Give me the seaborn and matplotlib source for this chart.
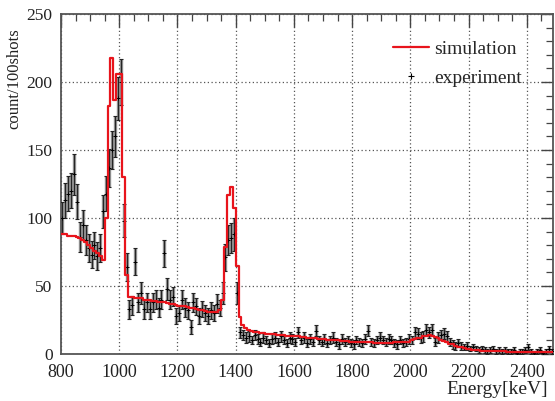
import numpy as np
import pandas as pd
import matplotlib
matplotlib.use("Agg")
import matplotlib.pyplot as plt
from matplotlib.lines import Line2D
from matplotlib.ticker import MultipleLocator
import seaborn as sns

# ---------------- data (10 keV bins starting at 800 keV) ----------------
bin_start = 800
bin_width = 10

simulation = [
    88, 88, 87, 87, 87, 86, 85, 84, 82, 80,            # 800
    78, 76, 74, 72, 69, 100, 182, 218, 187, 206,       # 900
    206, 130, 58, 42, 42, 41, 41, 41, 40, 40,          # 1000
    39.5, 39, 39, 38.5, 38, 38, 37.5, 37, 36.5, 36,    # 1100
    35.5, 35, 35, 34.5, 34, 33.5, 33, 32.5, 32, 31.5,  # 1200
    31, 31, 31, 31, 32, 40, 79, 117, 123, 107,         # 1300
    65, 27, 21, 19, 18, 17, 16.5, 16, 15.5, 15.5,      # 1400
    15, 15, 14.5, 14.5, 14, 14, 14, 13.5, 13.5, 13.5,  # 1500
    13, 13, 12.5, 12.5, 12, 12, 11.5, 11.5, 11, 11,    # 1600
    11, 10.5, 10.5, 10, 10, 10, 9.5, 9.5, 9.5, 9,      # 1700
    9, 9, 9, 9, 8.5, 8.5, 8.5, 8, 8, 8,                # 1800
    8, 8, 8, 8, 8.5, 8.5, 8.5, 9, 9, 9,                # 1900
    10, 11, 11.5, 12, 13, 13.5, 14, 13.5, 12.5, 11.5,  # 2000
    10.5, 9.5, 8.5, 7.5, 7, 6, 5.5, 5, 4.5, 4,         # 2100
    3.5, 3, 3, 2.8, 2.5, 2.5, 2.3, 2.2, 2, 2,          # 2200
    2, 2, 2, 1.8, 1.8, 1.8, 1.7, 1.7, 1.7, 1.6,        # 2300
    1.6, 1.6, 1.6, 1.6, 1.5, 1.5, 1.5, 1.5, 1.5,       # 2400
]

experiment = [
    100, 113, 118, 120, 132, 112, 86, 95, 84, 78,      # 800
    73, 80, 72, 78, 105, 118, 137, 150, 160, 188,      # 900
    200, 98, 64, 33, 36, 68, 38, 45, 33, 38,           # 1000
    33, 38, 40, 34, 40, 74, 48, 40, 42, 28,            # 1100
    30, 40, 34, 32, 20, 38, 35, 28, 33, 30,            # 1200
    28, 32, 30, 37, 34, 45, 71, 84, 85, 88,            # 1300
    45, 16, 14, 12, 13, 10, 14, 11, 9, 12,             # 1400
    10, 8, 11, 12, 9, 13, 10, 8, 12, 11,               # 1500
    9, 16, 10, 12, 8, 11, 9, 17, 10, 9,                # 1600
    11, 8, 10, 12, 9, 7, 11, 9, 10, 8,                 # 1700
    7, 10, 9, 8, 11, 17, 9, 8, 10, 12,                 # 1800
    10, 9, 11, 10, 8, 7, 10, 8, 9, 11,                 # 1900
    10, 16, 15, 12, 13, 18, 16, 18, 9, 12,             # 2000
    14, 15, 13, 9, 7, 6, 8, 6, 5, 6,                   # 2100
    4, 5, 4, 3, 4, 3, 2, 3, 4, 2,                      # 2200
    3, 2, 3, 2, 2, 3, 1, 2, 2, 3,                      # 2300
    5, 2, 1, 2, 3, 1, 2, 4, 2,                         # 2400
]

experiment_err = [
    12, 13, 13, 13, 15, 13, 11, 11, 11, 10,
    10, 10, 10, 10, 12, 13, 14, 14, 15, 16,
    17, 12, 10, 7, 7, 10, 7, 8, 7, 7,
    7, 7, 7, 7, 7, 10, 8, 7, 7, 6,
    6, 7, 7, 6, 5, 7, 6, 6, 6, 6,
    6, 6, 6, 7, 6, 8, 10, 11, 11, 12,
    8, 4, 4, 4, 4, 3, 4, 4, 3, 4,
    3, 3, 4, 4, 3, 4, 3, 3, 4, 4,
    3, 4, 3, 4, 3, 4, 3, 4, 3, 3,
    4, 3, 3, 4, 3, 3, 4, 3, 3, 3,
    3, 3, 3, 3, 4, 4, 3, 3, 3, 4,
    3, 3, 4, 3, 3, 3, 3, 3, 3, 4,
    3, 4, 4, 4, 4, 4, 4, 4, 3, 4,
    4, 4, 4, 3, 3, 3, 3, 3, 2, 3,
    2, 2, 2, 2, 2, 2, 2, 2, 2, 2,
    2, 2, 2, 2, 2, 2, 1, 2, 2, 2,
    2, 2, 1, 2, 2, 1, 2, 2, 2,
]

x_ticks = [800, 1000, 1200, 1400, 1600, 1800, 2000, 2200, 2400]
y_ticks = [0, 50, 100, 150, 200, 250]

# ---------------- build frame ----------------
n = len(simulation)
edges = [float(bin_start + bin_width * i) for i in range(n + 1)]
centers = [e + bin_width / 2 for e in edges[:-1]]
df = pd.DataFrame({"energy": centers, "sim": simulation,
                   "exp": experiment, "err": experiment_err})

# ---------------- style ----------------
sns.set_style("white")
plt.rcParams["font.family"] = ["Liberation Serif", "DejaVu Serif"]
plt.rcParams["mathtext.fontset"] = "stix"

fig = plt.figure(figsize=(5.55, 4.01), dpi=100)
ax = fig.add_axes([61 / 555, 1 - 354 / 401, 492 / 555, 340 / 401])

# experiment: grey error blocks + black error bars with caps
ax.errorbar(df["energy"], df["exp"], yerr=df["err"], fmt="none",
            ecolor="#8c8c8c", elinewidth=2.4, capsize=0, zorder=2)
ax.errorbar(df["energy"], df["exp"], yerr=df["err"], fmt="none",
            ecolor="#222222", elinewidth=0.7, capsize=1.6, capthick=0.8, zorder=3)
sns.scatterplot(data=df, x="energy", y="exp", marker="+", color="black",
                s=10, linewidth=0.7, ax=ax, zorder=4, legend=False)

# simulation: red step histogram
sns.histplot(data=df, x="energy", weights="sim", bins=edges, element="step",
             fill=False, color="#e8141c", linewidth=1.6, ax=ax, zorder=5)

ax.set_xlim(800, 2490)
ax.set_ylim(0, 250)
ax.set_xticks(x_ticks)
ax.set_yticks(y_ticks)
ax.xaxis.set_minor_locator(MultipleLocator(50))
ax.yaxis.set_minor_locator(MultipleLocator(10))
ax.tick_params(which="both", direction="in", top=True, right=True,
               colors="#444444", labelcolor="#222222")
ax.tick_params(which="major", length=9, width=1.0, pad=6)
ax.tick_params(which="minor", length=5, width=0.9)
ax.tick_params(axis="x", which="major", labelsize=13, pad=7)
ax.tick_params(axis="y", which="major", labelsize=12.5)
for sp in ax.spines.values():
    sp.set_color("#555555")
    sp.set_linewidth(1.3)

ax.grid(True, which="major", linestyle=(0, (1, 2)), color="#555555", linewidth=0.9)
ax.set_axisbelow(True)

ax.set_xlabel("Energy[keV]", fontsize=14, ha="right", va="top", color="#222222")
ax.xaxis.set_label_coords(0.99, -0.08)
ax.set_ylabel("count/100shots", fontsize=12, ha="right", color="#222222")
ax.yaxis.set_label_coords(-0.079, 0.959)

handles = [
    Line2D([], [], color="#e8141c", linewidth=1.6),
    Line2D([], [], color="black", marker="+", linestyle="none", markersize=5,
           markeredgewidth=0.8),
]
ax.legend(handles, ["simulation", "experiment"], loc="upper left",
          bbox_to_anchor=(0.675, 0.922), borderaxespad=0, borderpad=0,
          frameon=False, fontsize=14,
          handlelength=1.85, handletextpad=0.25, labelspacing=0.56)

fig.savefig("out.png", dpi=100)
